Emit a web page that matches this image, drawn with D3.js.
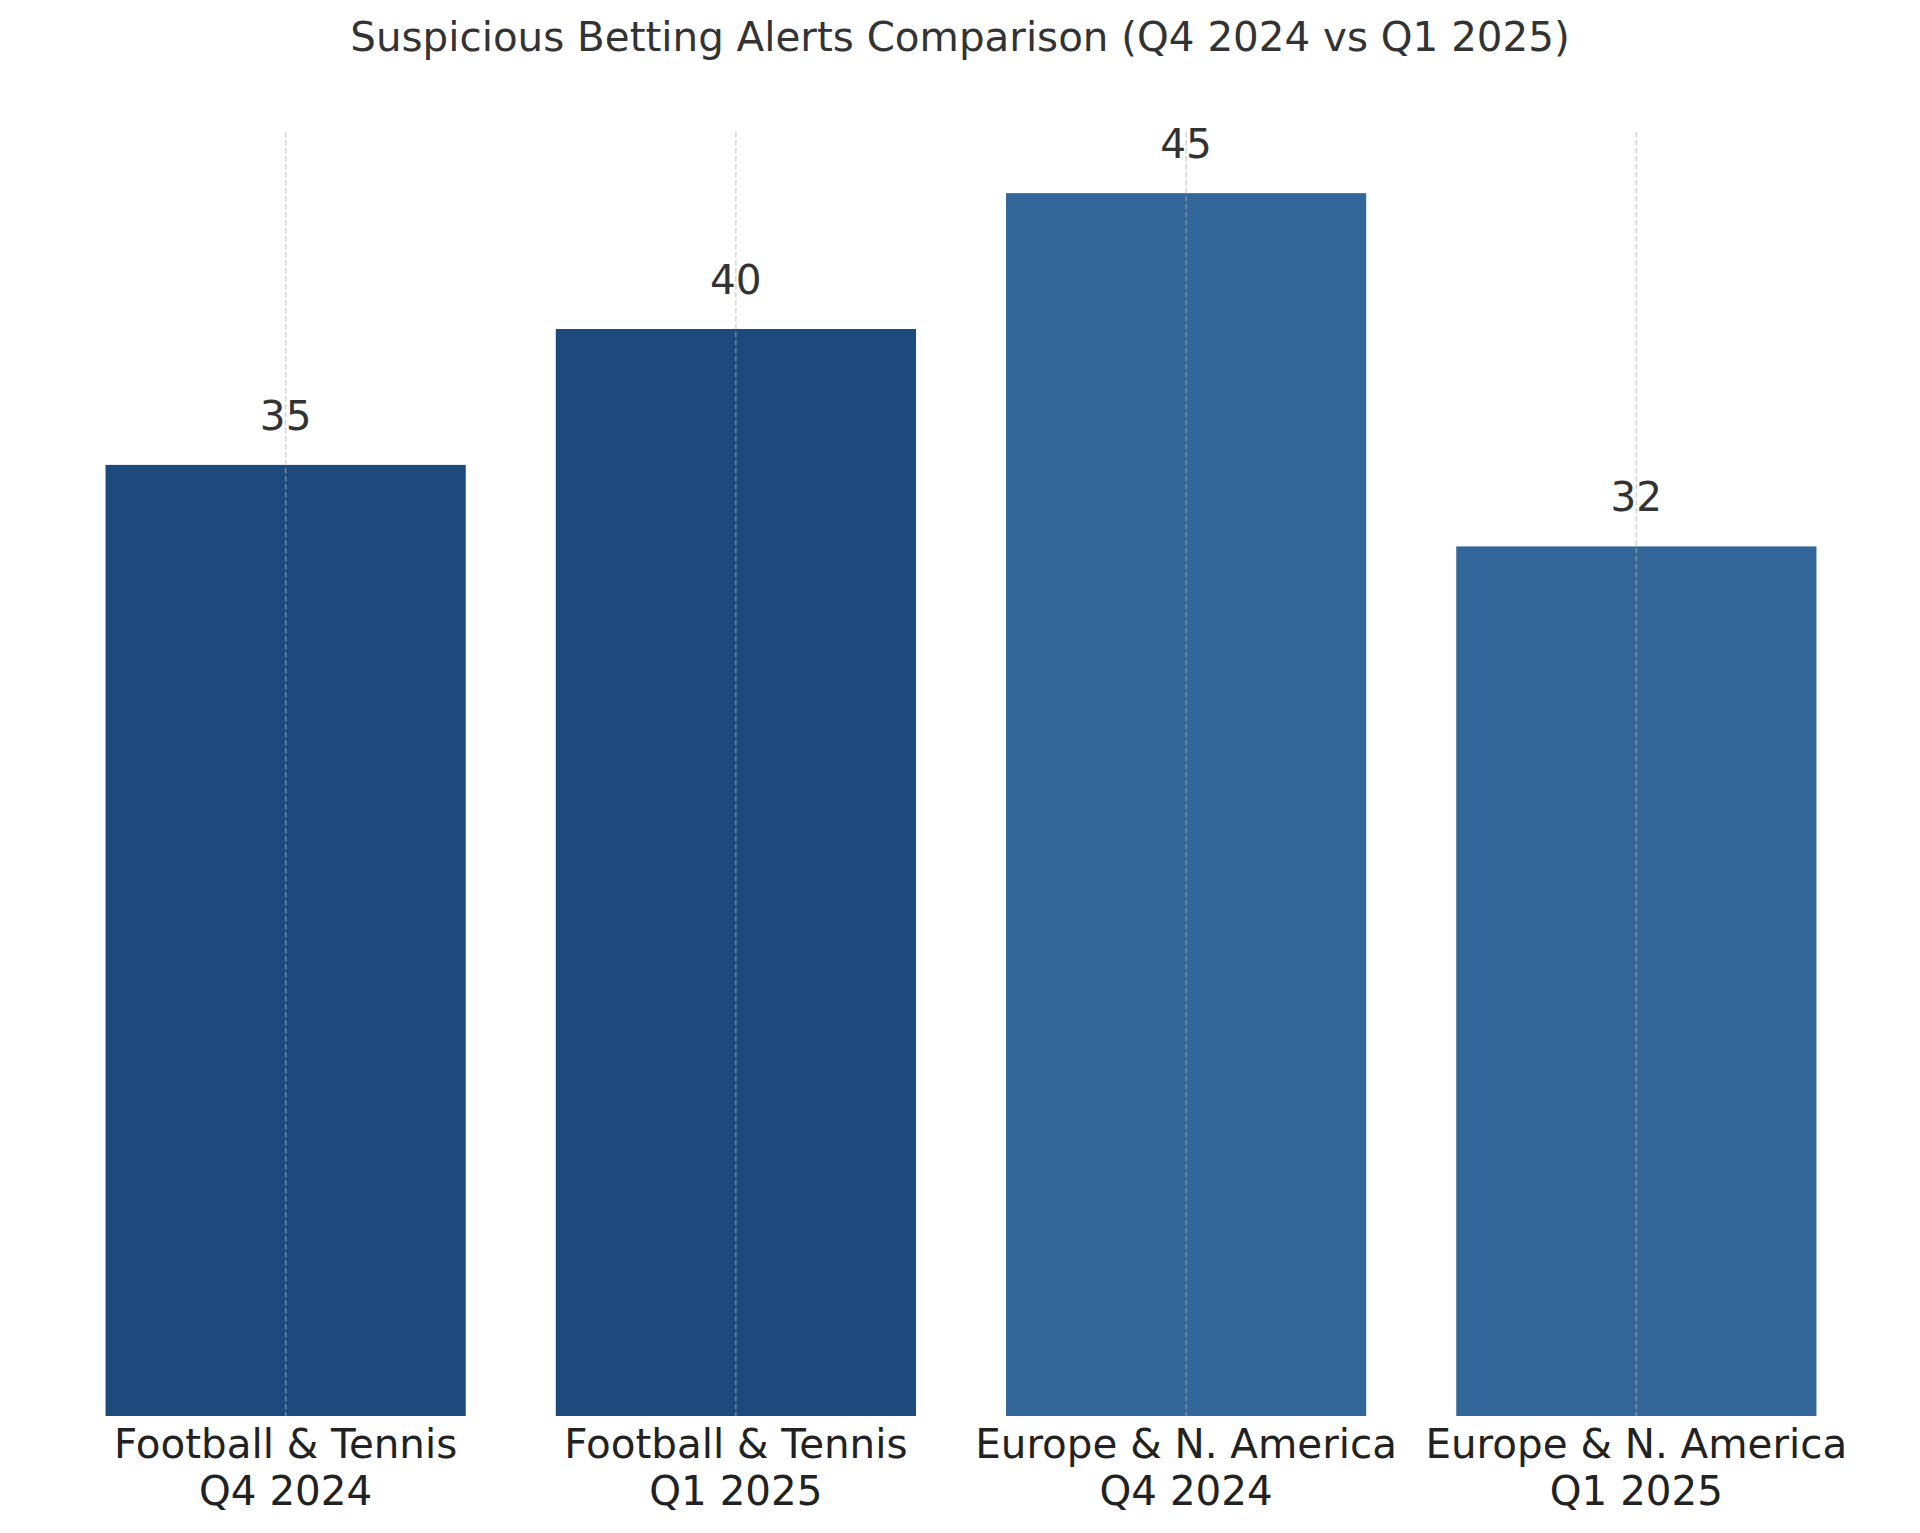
<!DOCTYPE html>
<html lang="en">
<head>
    <meta charset="UTF-8">
    <script src="https://cdn.jsdelivr.net/npm/d3@7"></script>
    <title>Suspicious Betting Alerts</title>
    <style>
        body { margin: 0; background: #fff; }
        text { font-family: "DejaVu Sans", sans-serif; }
    </style>
</head>
<body>
    <svg width="1920" height="1533"></svg>

    <script>
        // data
        const categories = ['Football & Tennis\nQ4 2024', 'Football & Tennis\nQ1 2025',
                            'Europe & N. America\nQ4 2024', 'Europe & N. America\nQ1 2025']
        const alerts = [35, 40, 45, 32]
        const barColors = ['#1c4a7c', '#1c4a7c', '#336699', '#336699']

        const svg = d3.select('svg')

        // plot area
        const area = { left: 20, right: 1902, top: 132, bottom: 1416 }

        const xScale = d3.scaleBand()
            .domain(categories)
            .range([area.left, area.right])
            .paddingInner(0.2)
            .paddingOuter(0.19)

        const yScale = d3.scaleLinear()
            .domain([0, d3.max(alerts) * 1.05])
            .range([area.bottom, area.top])

        // bars
        svg.append('g')
            .selectAll('rect')
            .data(alerts)
            .join('rect')
            .attr('x', (d, i) => xScale(categories[i]))
            .attr('y', d => yScale(d))
            .attr('width', xScale.bandwidth())
            .attr('height', d => yScale(0) - yScale(d))
            .attr('fill', (d, i) => barColors[i])

        // vertical dashed grid, drawn over the bars
        svg.append('g')
            .selectAll('line')
            .data(categories)
            .join('line')
            .attr('x1', d => xScale(d) + xScale.bandwidth() / 2)
            .attr('x2', d => xScale(d) + xScale.bandwidth() / 2)
            .attr('y1', area.top)
            .attr('y2', area.bottom)
            .attr('stroke', '#b0b0b0')
            .attr('stroke-opacity', 0.6)
            .attr('stroke-width', 1.4)
            .attr('stroke-dasharray', '5.5,2.5')

        // x axis, labels only
        const xAxis = svg.append('g')
            .attr('transform', `translate(0, ${area.bottom})`)
            .call(d3.axisBottom(xScale).tickSize(0).tickPadding(0))
        xAxis.select('.domain').remove()
        xAxis.selectAll('.tick text')
            .attr('fill', '#222222')
            .attr('font-size', 40.4)
            .attr('dy', null)
            .attr('y', 42)
            .text(null)
            .each(function (d) {
                const lines = d.split('\n')
                d3.select(this).selectAll('tspan')
                    .data(lines)
                    .join('tspan')
                    .attr('x', 0)
                    .attr('dy', (l, i) => i === 0 ? 0 : 47)
                    .text(l => l)
            })

        // value labels
        svg.append('g')
            .selectAll('text')
            .data(alerts)
            .join('text')
            .attr('x', (d, i) => xScale(categories[i]) + xScale.bandwidth() / 2)
            .attr('y', d => yScale(d) - 35)
            .attr('text-anchor', 'middle')
            .attr('font-size', 40.6)
            .attr('fill', '#333333')
            .text(d => d)

        // title
        svg.append('text')
            .attr('x', 960)
            .attr('y', 51)
            .attr('text-anchor', 'middle')
            .attr('font-size', 40.4)
            .attr('fill', '#333333')
            .text('Suspicious Betting Alerts Comparison (Q4 2024 vs Q1 2025)')
    </script>
</body>
</html>
